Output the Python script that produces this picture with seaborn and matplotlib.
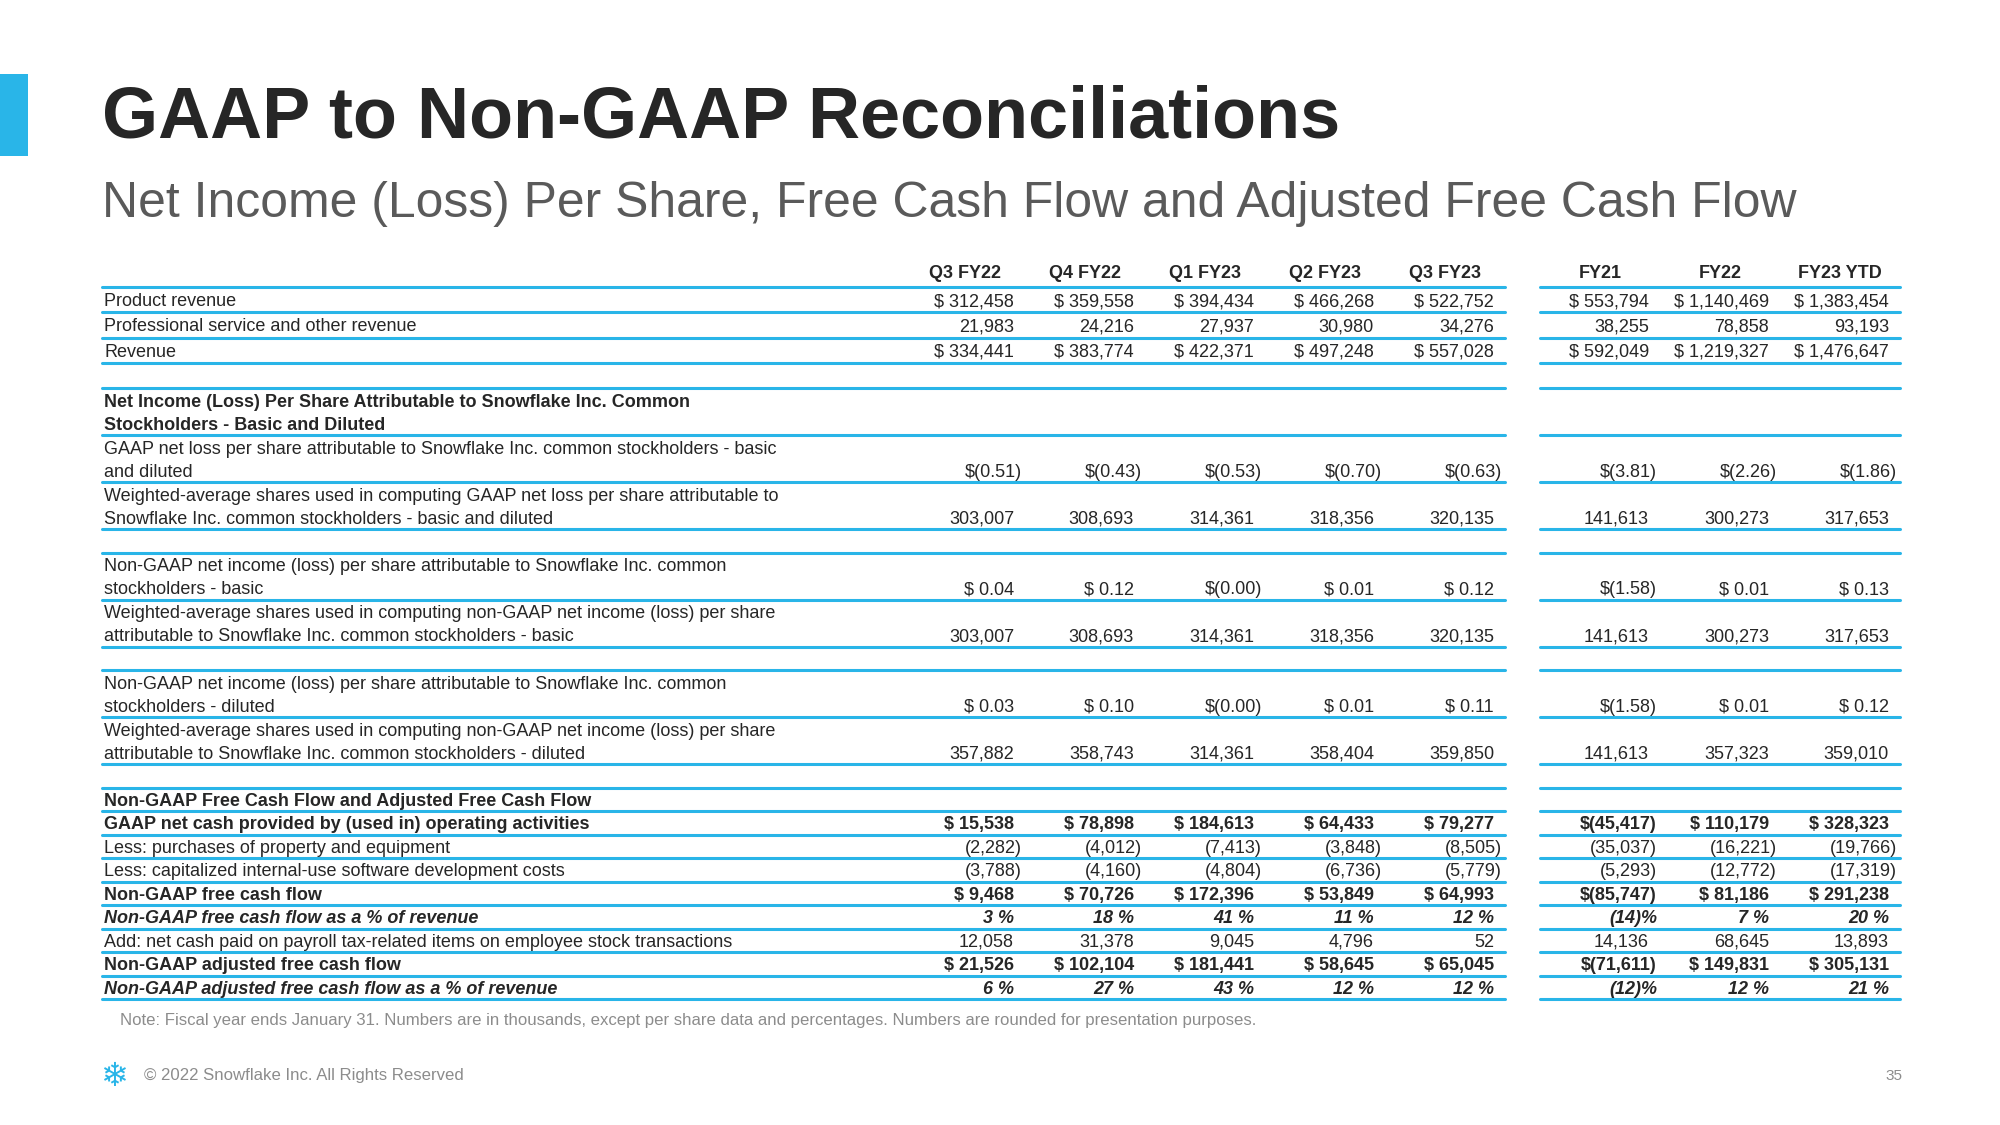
"""
Snowflake slide: GAAP to Non-GAAP reconciliation table, drawn on one
pixel-scaled axes. Rules come from seaborn, cells are text.
"""

import numpy as np
import pandas as pd
import matplotlib
matplotlib.use("Agg")
import matplotlib.pyplot as plt
from matplotlib.patches import Rectangle
import seaborn as sns

# 1. Data
quarters = ["Q3 FY22", "Q4 FY22", "Q1 FY23", "Q2 FY23", "Q3 FY23"]
years = ["FY21", "FY22", "FY23 YTD"]

product_rev   = [312458, 359558, 394434, 466268, 522752, 553794, 1140469, 1383454]
services_rev  = [21983, 24216, 27937, 30980, 34276, 38255, 78858, 93193]
total_rev     = [334441, 383774, 422371, 497248, 557028, 592049, 1219327, 1476647]

gaap_eps      = [-0.51, -0.43, -0.53, -0.70, -0.63, -3.81, -2.26, -1.86]
gaap_shares   = [303007, 308693, 314361, 318356, 320135, 141613, 300273, 317653]
ng_eps_basic  = [0.04, 0.12, -0.00, 0.01, 0.12, -1.58, 0.01, 0.13]
ng_sh_basic   = [303007, 308693, 314361, 318356, 320135, 141613, 300273, 317653]
ng_eps_dil    = [0.03, 0.10, -0.00, 0.01, 0.11, -1.58, 0.01, 0.12]
ng_sh_dil     = [357882, 358743, 314361, 358404, 359850, 141613, 357323, 359010]

op_cash       = [15538, 78898, 184613, 64433, 79277, -45417, 110179, 328323]
capex         = [-2282, -4012, -7413, -3848, -8505, -35037, -16221, -19766]
cap_software  = [-3788, -4160, -4804, -6736, -5779, -5293, -12772, -17319]
fcf           = [9468, 70726, 172396, 53849, 64993, -85747, 81186, 291238]
fcf_pct       = [3, 18, 41, 11, 12, -14, 7, 20]
payroll_tax   = [12058, 31378, 9045, 4796, 52, 14136, 68645, 13893]
adj_fcf       = [21526, 102104, 181441, 58645, 65045, -71611, 149831, 305131]
adj_fcf_pct   = [6, 27, 43, 12, 12, -12, 12, 21]

rows = [
    ("Product revenue", product_rev, "dollar", "normal"),
    ("Professional service and other revenue", services_rev, "plain", "normal"),
    ("Revenue", total_rev, "dollar", "normal"),
    None,
    ("Net Income (Loss) Per Share Attributable to Snowflake Inc. Common\n"
     "Stockholders - Basic and Diluted", None, None, "bold"),
    ("GAAP net loss per share attributable to Snowflake Inc. common stockholders - basic\n"
     "and diluted", gaap_eps, "eps", "normal"),
    ("Weighted-average shares used in computing GAAP net loss per share attributable to\n"
     "Snowflake Inc. common stockholders - basic and diluted", gaap_shares, "plain", "normal"),
    None,
    ("Non-GAAP net income (loss) per share attributable to Snowflake Inc. common\n"
     "stockholders - basic", ng_eps_basic, "eps", "normal"),
    ("Weighted-average shares used in computing non-GAAP net income (loss) per share\n"
     "attributable to Snowflake Inc. common stockholders - basic", ng_sh_basic, "plain", "normal"),
    None,
    ("Non-GAAP net income (loss) per share attributable to Snowflake Inc. common\n"
     "stockholders - diluted", ng_eps_dil, "eps", "normal"),
    ("Weighted-average shares used in computing non-GAAP net income (loss) per share\n"
     "attributable to Snowflake Inc. common stockholders - diluted", ng_sh_dil, "plain", "normal"),
    None,
    ("Non-GAAP Free Cash Flow and Adjusted Free Cash Flow", None, None, "bold"),
    ("GAAP net cash provided by (used in) operating activities", op_cash, "dollar", "bold"),
    ("Less: purchases of property and equipment", capex, "plain", "normal"),
    ("Less: capitalized internal-use software development costs", cap_software, "plain", "normal"),
    ("Non-GAAP free cash flow", fcf, "dollar", "bold"),
    ("Non-GAAP free cash flow as a % of revenue", fcf_pct, "pct", "bolditalic"),
    ("Add: net cash paid on payroll tax-related items on employee stock transactions",
     payroll_tax, "plain", "normal"),
    ("Non-GAAP adjusted free cash flow", adj_fcf, "dollar", "bold"),
    ("Non-GAAP adjusted free cash flow as a % of revenue", adj_fcf_pct, "pct", "bolditalic"),
]

NOTE = ("Note: Fiscal year ends January 31. Numbers are in thousands, except per share "
        "data and percentages. Numbers are rounded for presentation purposes.")

# 2. Style
BLUE, INK, GREY, LIGHT = "#29B5E8", "#262626", "#5A5A5A", "#8C8C8C"
sns.set_theme(style="white")
plt.rcParams["font.family"] = ["Liberation Sans", "DejaVu Sans"]
FS = 13

W, H = 2000, 1125
fig = plt.figure(figsize=(20, 11.25), dpi=100)
ax = fig.add_axes([0, 0, 1, 1])

# layout (pixels)
LABEL_X, TABLE_L = 104, 102
CELL_W = 120
cells = [905 + i * CELL_W for i in range(5)] + [1540 + i * CELL_W for i in range(3)]
groups = [(TABLE_L, 1505), (1540, 1900)]
TOP = 287


def fmt(v, kind):
    neg, a = np.signbit(v), abs(v)
    if kind == "dollar":
        return f"$({a:,.0f})" if neg else f"$ {a:,.0f}"
    if kind == "plain":
        return f"({a:,.0f})" if neg else f"{a:,.0f}"
    if kind == "eps":
        return f"$({a:.2f})" if neg else f"$ {a:.2f}"
    return f"({a:.0f})%" if neg else f"{a:.0f} %"


def font(style):
    return dict(fontweight="normal" if style == "normal" else "bold",
                fontstyle="italic" if style == "bolditalic" else "normal")


# 3. Table body
rule_y = []
y = TOP
for i, row in enumerate(rows):
    unit = 25.3 if i < 4 else 23.5
    if row is None:
        y += unit
        continue
    label, vals, kind, style = row
    lines = label.split("\n")
    h = unit * len(lines)
    rule_y += [y, y + h]
    mid = y + h / 2
    if len(lines) == 1:
        bases = [mid + 6.5]
    else:
        bases = [mid - 11.5 + 6.5, mid + 11.5 + 6.5]
    for txt, b in zip(lines, bases):
        ax.text(LABEL_X, b, txt, fontsize=FS, color=INK, va="baseline", ha="left", **font(style))
    if vals is not None:
        for c, v in zip(cells, vals):
            s = fmt(v, kind)
            x = c + CELL_W - (3 if np.signbit(v) else 11)
            ax.text(x, bases[-1], s, fontsize=FS, color=INK, va="baseline", ha="right", **font(style))
    y += h

for c, name in zip(cells, quarters + years):
    ax.text(c + CELL_W / 2, 278, name, fontsize=FS, fontweight="bold", color=INK,
            ha="center", va="baseline")

rule_y = sorted(set(round(v, 1) for v in rule_y))
rules = pd.DataFrame(
    [(f"{g}-{k}", x, ry) for k, ry in enumerate(rule_y)
     for g, (x0, x1) in enumerate(groups) for x in (x0, x1)],
    columns=["rule", "x", "y"],
)
sns.lineplot(data=rules, x="x", y="y", units="rule", estimator=None, sort=False,
             color=BLUE, linewidth=2.2, legend=False, ax=ax)

# 4. Titles, note, footer
ax.add_patch(Rectangle((0, 74), 28, 82, color=BLUE, lw=0))
title = ax.text(102, 138, "GAAP to Non-GAAP Reconciliations", fontsize=50,
                fontweight="bold", color=INK, va="baseline")
sub = ax.text(102, 217, "Net Income (Loss) Per Share, Free Cash Flow and Adjusted Free Cash Flow",
              fontsize=30, color=GREY, va="baseline")
note = ax.text(120, 1025, NOTE, fontsize=11, color=LIGHT, va="baseline")
foot = ax.text(144, 1080, "\u00a9 2022 Snowflake Inc. All Rights Reserved",
               fontsize=11, color=LIGHT, va="baseline")
ax.text(114, 1076, "\u2744", fontsize=24, color=BLUE, ha="center", va="center",
        family="DejaVu Sans")
ax.text(1902, 1080, "35", fontsize=11, color=LIGHT, ha="right", va="baseline")

ax.set_xlim(0, W)
ax.set_ylim(H, 0)
ax.axis("off")

r = fig.canvas.get_renderer()
for t, target in [(title, 1238), (sub, 1690), (note, 1130), (foot, 318)]:
    w = t.get_window_extent(r).width
    t.set_fontsize(t.get_fontsize() * target / w)

fig.savefig("out.png", dpi=100, facecolor="white")
plt.close(fig)
